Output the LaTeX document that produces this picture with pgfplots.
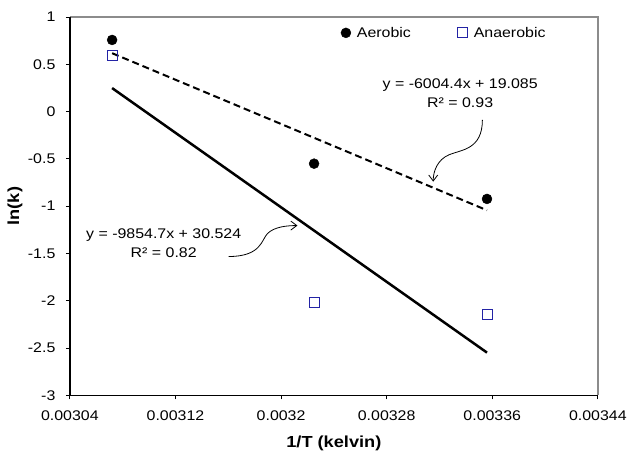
\documentclass[border=0pt]{standalone}
\usepackage{fontspec}
\setmainfont[FakeStretch=1.14]{Liberation Sans}
\usepackage{pgfplots}
\pgfplotsset{compat=1.18}
\usetikzlibrary{arrows.meta}
\definecolor{sqblue}{RGB}{35,35,165}
\definecolor{spinegray}{RGB}{140,140,140}
\begin{document}
\begin{tikzpicture}[x=1pt,y=1pt]
\path (0,0) rectangle (630,456);
\begin{axis}[
  at={(70pt,60pt)}, anchor=south west,
  scale only axis, width=529pt, height=379pt,
  xmin=0.00304, xmax=0.00344, ymin=-3, ymax=1,
  xtick={0.00304,0.00312,0.0032,0.00328,0.00336,0.00344},
  xticklabels={0.00304,0.00312,0.0032,0.00328,0.00336,0.00344},
  ytick={-3,-2.5,-2,-1.5,-1,-0.5,0,0.5,1},
  yticklabels={-3,-2.5,-2,-1.5,-1,-0.5,0,0.5,1},
  scaled x ticks=false,
  tick align=outside, xtick pos=bottom, ytick pos=left,
  major tick length=4pt,
  tick style={black, line width=0.8pt},
  axis line style={draw=none},
  ticklabel style={font=\fontsize{14}{16}\selectfont},
  xticklabel style={yshift=-8pt},
  yticklabel style={xshift=-7pt},
  /pgf/number format/assume math mode=true,
  xlabel={1/T (kelvin)}, ylabel={ln(k)},
  xlabel style={font=\fontsize{16}{18}\selectfont\bfseries, at={(axis description cs:0.5,-0.128)}, anchor=center},
  ylabel style={font=\fontsize{16}{18}\selectfont\bfseries, at={(axis description cs:-0.104,0.5)}, anchor=center},
  clip=false,
  legend columns=2,
  legend style={draw=none, fill=none, at={(axis description cs:0.709,0.958)}, anchor=center,
    font=\fontsize{14}{16}\selectfont,
    /tikz/every odd column/.append style={column sep=4pt},
    /tikz/every even column/.append style={column sep=45pt}},
]
\addplot[only marks, mark=*, mark size=5pt, black] coordinates {
  (0.003072,0.757) (0.003225,-0.551) (0.003356,-0.924)};
\addlegendentry{Aerobic}
\addplot[only marks, mark=square, mark size=5pt, sqblue, mark options={fill=white, line width=0.9pt}] coordinates {
  (0.003072,0.588) (0.003225,-2.022) (0.003356,-2.145)};
\addlegendentry{Anaerobic}
\addplot[forget plot, black, line width=2pt, dash pattern=on 7pt off 4pt] coordinates {
  (0.003072,0.617) (0.003356,-1.044)};
\addplot[forget plot, black, line width=2.5pt] coordinates {
  (0.003072,0.248) (0.003356,-2.549)};
\draw[spinegray, line width=2pt] (rel axis cs:0,1) -- (rel axis cs:1,1) -- (rel axis cs:1,0);
\draw[black, line width=1.5pt] (rel axis cs:0,1) -- (rel axis cs:0,0) -- (rel axis cs:1,0);
\end{axis}
\node[align=center, font=\fontsize{14}{19}\selectfont] at (461,362.5) {y = -6004.4x + 19.085\\R² = 0.93};
\node[align=center, font=\fontsize{14}{19}\selectfont] at (164,212.7) {y = -9854.7x + 30.524\\R² = 0.82};
\draw[line width=0.8pt, -{Straight Barb[length=6pt,width=9pt]}] (483.3,336) .. controls (483.3,306) and (462,306) .. (450,301) .. controls (438,296) and (434,284) .. (434,274);
\draw[line width=0.8pt, -{Straight Barb[length=6pt,width=9pt]}] (229,199) .. controls (262,199) and (262,216) .. (268,222) .. controls (275,229) and (288,230) .. (298,230);
\end{tikzpicture}
\end{document}
